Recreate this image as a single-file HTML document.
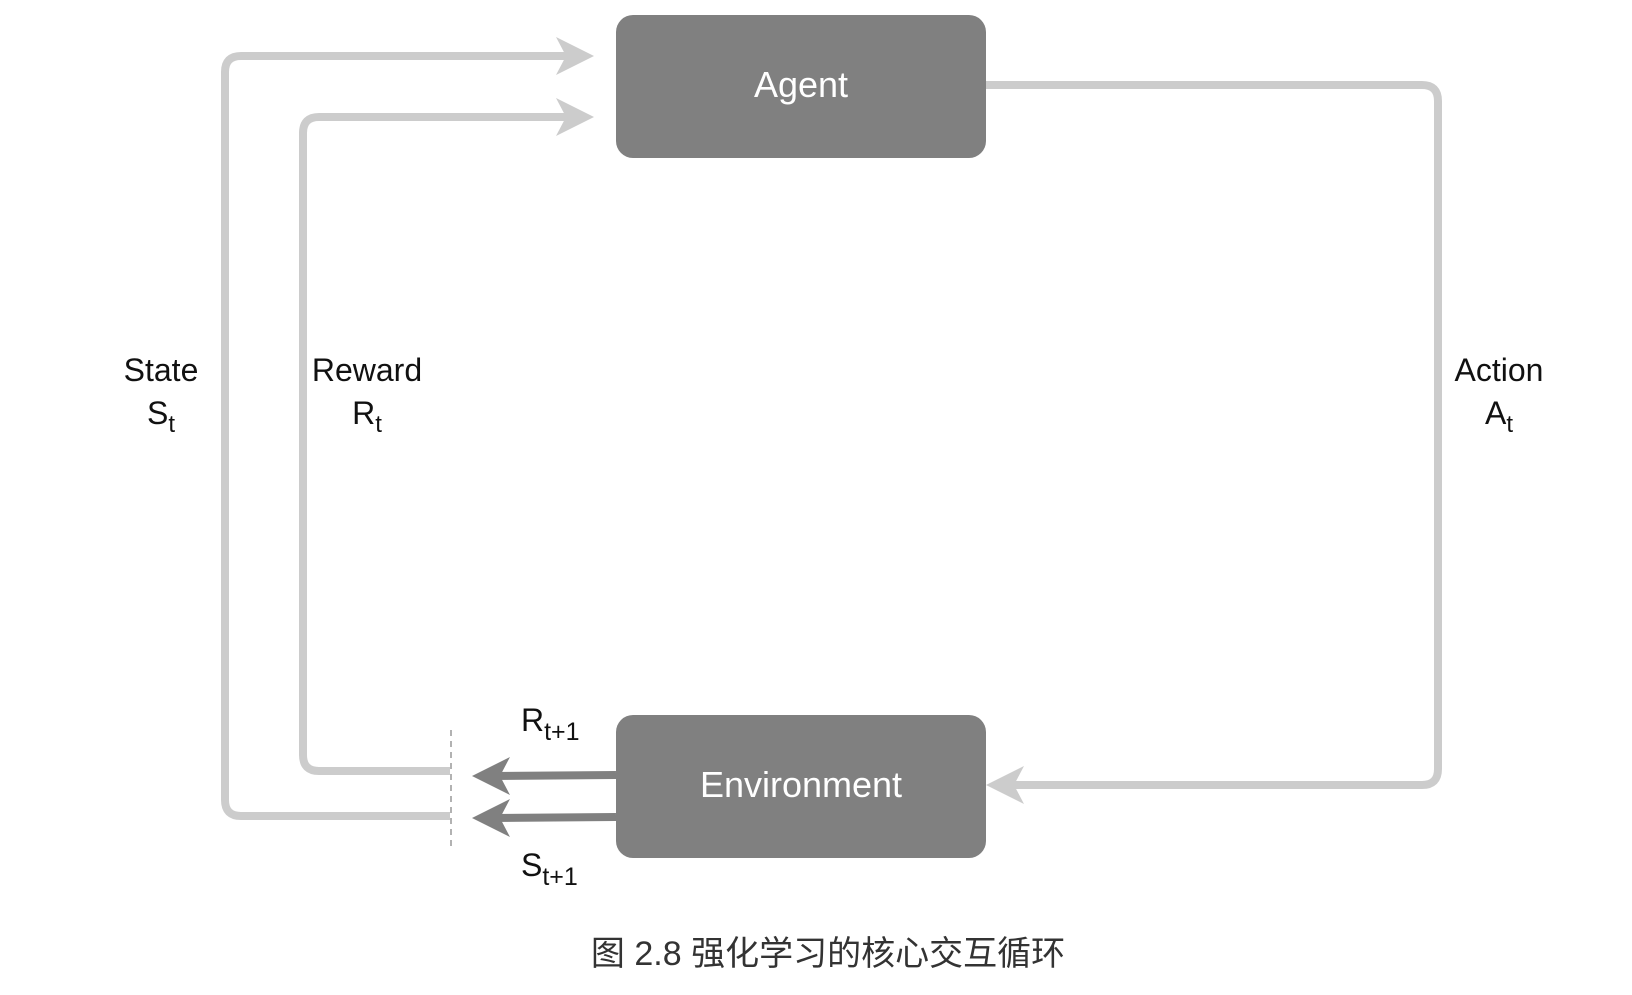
<!DOCTYPE html>
<html><head><meta charset="utf-8"><style>
body{margin:0;background:#fff;width:1632px;height:990px;overflow:hidden}
</style></head><body>
<svg width="1632" height="990" xmlns="http://www.w3.org/2000/svg" font-family="Liberation Sans, sans-serif">
<g fill="none" stroke="#cccccc" stroke-width="8">
<path d="M450 816 H241 Q225 816 225 800 V72 Q225 56 241 56 H575"/>
<path d="M450 771 H319 Q303 771 303 755 V133 Q303 117 319 117 H575"/>
<path d="M986 85 H1422 Q1438 85 1438 101 V769 Q1438 785 1422 785 H1000"/>
</g>
<g fill="#cccccc">
<path d="M594 56 L556 37 L566 56 L556 75 Z"/>
<path d="M594 117 L556 98 L566 117 L556 136 Z"/>
<path d="M986 785 L1024 766 L1014 785 L1024 804 Z"/>
</g>
<line x1="451" y1="730" x2="451" y2="850" stroke="#999" stroke-width="1.5" stroke-dasharray="6,5"/>
<g stroke="#808080" stroke-width="8" fill="none">
<line x1="616" y1="775" x2="490" y2="776"/>
<line x1="616" y1="817" x2="490" y2="818"/>
</g>
<g fill="#808080">
<path d="M472 776 L510 757 L500 776 L510 795 Z"/>
<path d="M472 818 L510 799 L500 818 L510 837 Z"/>
</g>
<rect x="616" y="15" width="370" height="143" rx="17" fill="#808080"/>
<rect x="616" y="715" width="370" height="143" rx="17" fill="#808080"/>
<text x="801" y="97" fill="#fff" font-size="36" text-anchor="middle">Agent</text>
<text x="801" y="797" fill="#fff" font-size="36" text-anchor="middle">Environment</text>
<g font-size="32" fill="#111" text-anchor="middle">
<text x="161" y="381">State</text>
<text x="161" y="424">S<tspan font-size="24" dy="8">t</tspan></text>
<text x="367" y="381">Reward</text>
<text x="367" y="424">R<tspan font-size="24" dy="8">t</tspan></text>
<text x="1499" y="381">Action</text>
<text x="1499" y="424">A<tspan font-size="24" dy="8">t</tspan></text>
</g>
<g font-size="32" fill="#111">
<text x="521" y="731">R<tspan font-size="25" dy="9">t+1</tspan></text>
<text x="521" y="876">S<tspan font-size="25" dy="9">t+1</tspan></text>
</g>
<text x="828" y="965" font-size="34" fill="#333" text-anchor="middle" font-family="Liberation Sans, Noto Sans CJK SC, sans-serif">图 2.8 强化学习的核心交互循环</text>
</svg>
</body></html>
